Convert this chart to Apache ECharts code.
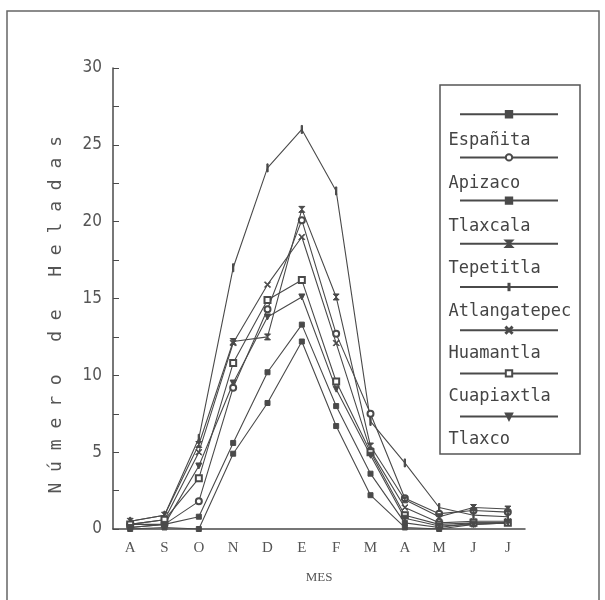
<!DOCTYPE html>
<html>
<head>
<meta charset="utf-8">
<script src="https://cdn.jsdelivr.net/npm/echarts@6/dist/echarts.min.js"></script>
<style>
html,body{margin:0;padding:0;background:#fff;}
#chart{width:605px;height:600px;}
</style>
</head>
<body>
<div id="chart"></div>
<script>
const months = ['A','S','O','N','D','E','F','M','A','M','J','J'];
const yTicks = [0, 5, 10, 15, 20, 25, 30];
const seriesNames = ['Españita','Apizaco','Tlaxcala','Tepetitla','Atlangatepec','Huamantla','Cuapiaxtla','Tlaxco'];
const espanita     = [0.0, 0.1, 0.0, 4.9,  8.2, 12.2,  6.7, 2.2, 0.1, 0.0, 0.3, 0.4];
const apizaco      = [0.3, 0.3, 1.8, 9.2, 14.3, 20.1, 12.7, 7.5, 2.0, 1.0, 1.2, 1.1];
const tlaxcala     = [0.1, 0.3, 0.8, 5.6, 10.2, 13.3,  8.0, 3.6, 0.4, 0.1, 0.4, 0.4];
const tepetitla    = [0.5, 0.9, 5.5, 12.2, 12.5, 20.8, 15.1, 5.4, 1.9, 0.8, 1.4, 1.3];
const atlangatepec = [0.5, 0.9, 5.9, 17.0, 23.5, 26.0, 22.0, 7.0, 4.3, 1.4, 0.9, 0.8];
const huamantla    = [0.3, 0.6, 5.0, 12.1, 15.9, 19.0, 12.1, 5.1, 1.4, 0.4, 0.5, 0.5];
const cuapiaxtla   = [0.3, 0.6, 3.3, 10.8, 14.9, 16.2,  9.6, 5.0, 0.9, 0.3, 0.4, 0.4];
const tlaxco       = [0.1, 0.3, 4.1, 9.5, 13.8, 15.1,  9.1, 4.8, 0.7, 0.2, 0.3, 0.4];

const seriesData = [espanita, apizaco, tlaxcala, tepetitla, atlangatepec, huamantla, cuapiaxtla, tlaxco];
const symbols = [
  'rect',
  'emptyCircle',
  'rect',
  'path://M0,0 L10,0 L5,5 L10,10 L0,10 L5,5 Z',
  'path://M0,0 M10,10 M4.2,0 L5.8,0 L5.8,10 L4.2,10 Z',
  'path://M0,1 L1,0 L5,4 L9,0 L10,1 L6,5 L10,9 L9,10 L5,6 L1,10 L0,9 L4,5 Z',
  'emptyRect',
  'path://M0,0 L10,0 L5,10 Z'
];
const symbolSizes = [5, 6, 5, 6, 8, 6, 6, 6];
const ink = '#4a4a4a';

const chart = echarts.init(document.getElementById('chart'));
const mono = "'DejaVu Sans Mono','Liberation Mono',monospace";

chart.setOption({
  backgroundColor: '#fff',
  animation: false,
  grid: {left: 113, right: 80, top: 68, bottom: 71},
  xAxis: {
    type: 'category',
    data: months,
    boundaryGap: true,
    axisLine: {lineStyle: {color: ink, width: 1.5}},
    axisTick: {alignWithLabel: true, inside: true, length: 6, lineStyle: {color: ink}},
    axisLabel: {color: '#555', fontFamily: "'Liberation Serif',serif", fontSize: 15, margin: 12},
    name: 'MES',
    nameLocation: 'middle',
    nameGap: 42,
    nameTextStyle: {color: '#555', fontFamily: "'Liberation Serif',serif", fontSize: 13}
  },
  yAxis: {
    type: 'value',
    min: 0, max: 30, interval: 2.5,
    splitLine: {show: false},
    axisLine: {show: true, lineStyle: {color: ink, width: 1.5}},
    axisTick: {show: true, inside: true, length: 6, lineStyle: {color: ink}},
    axisLabel: {
      color: '#555',
      fontFamily: "'Liberation Sans Narrow','DejaVu Sans Condensed',sans-serif",
      fontSize: 17,
      margin: 11,
      formatter: v => (yTicks.indexOf(v) >= 0 ? String(v) : '')
    },
    name: 'N ú m e r o   d e   H e l a d a s   ',
    nameLocation: 'middle',
    nameGap: 48,
    nameTextStyle: {color: '#555', fontFamily: mono, fontSize: 18}
  },
  legend: [
    {
      orient: 'vertical',
      left: 454, top: 105,
      itemWidth: 98, itemHeight: 8, itemGap: 34.8,
      formatter: () => '',
      selectedMode: false,
      data: seriesNames
    },
    {
      orient: 'vertical',
      left: 429, top: 126,
      itemWidth: 1, itemHeight: 20, itemGap: 22.6,
      itemStyle: {opacity: 0},
      lineStyle: {opacity: 0},
      selectedMode: false,
      textStyle: {color: '#444', fontFamily: mono, fontSize: 17, lineHeight: 20},
      data: seriesNames
    }
  ],
  graphic: [
    {type: 'rect', shape: {x: 7, y: 11, width: 592, height: 600},
     style: {fill: 'none', stroke: '#666', lineWidth: 1.5}, silent: true},
    {type: 'rect', shape: {x: 440, y: 85, width: 140, height: 369},
     style: {fill: 'none', stroke: '#555', lineWidth: 1.5}, silent: true}
  ],
  series: seriesNames.map((name, i) => ({
    name: name,
    type: 'line',
    data: seriesData[i],
    symbol: symbols[i],
    symbolSize: symbolSizes[i],
    itemStyle: {color: ink, borderColor: ink, borderWidth: 1},
    lineStyle: {color: ink, width: 1.1},
    emphasis: {disabled: true}
  }))
});
</script>
</body>
</html>
